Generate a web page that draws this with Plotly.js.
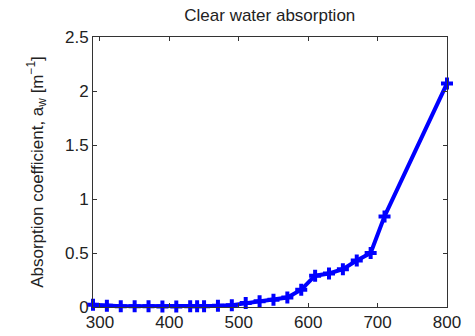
<!DOCTYPE html>
<html>
<head>
<meta charset="utf-8">
<script src="https://cdn.plot.ly/plotly-3.0.1.min.js"></script>
<style>html,body{margin:0;padding:0;background:#fff;}#chart{width:475px;height:336px;}</style>
</head>
<body>
<div id="chart"></div>
<script>
const wavelength = [290, 310, 330, 350, 370, 390, 410, 430, 440, 450, 470, 490, 510, 530, 550, 570, 590, 610, 630, 650, 670, 690, 710, 800];
const absorption = [0.02, 0.011, 0.008, 0.006, 0.006, 0.005, 0.005, 0.006, 0.006, 0.008, 0.012, 0.017, 0.036, 0.053, 0.068, 0.088, 0.16, 0.29, 0.31, 0.35, 0.43, 0.5, 0.839, 2.07];
const xTicks = [300, 400, 500, 600, 700, 800];
const yTicks = [0, 0.5, 1, 1.5, 2, 2.5];

const fontFam = 'Liberation Sans, Arial, sans-serif';
const axisCommon = {
  showgrid: false, zeroline: false, showline: true, linecolor: '#333', linewidth: 1,
  mirror: 'ticks', ticks: 'inside', ticklen: 4, tickcolor: '#333',
  tickfont: {family: fontFam, size: 17, color: '#222'}
};

Plotly.newPlot('chart', [{
  x: wavelength, y: absorption, type: 'scatter', mode: 'lines+markers',
  line: {color: '#0000ff', width: 4},
  marker: {symbol: 'cross', size: 10, color: '#0000ff'},
  cliponaxis: false
}], {
  width: 475, height: 336,
  margin: {l: 93, r: 28, t: 37, b: 29},
  paper_bgcolor: '#fff', plot_bgcolor: '#fff',
  showlegend: false,
  title: {text: 'Clear water absorption', x: 0.568, xanchor: 'center', y: 0.955, yanchor: 'middle',
          font: {family: fontFam, size: 17, color: '#222'}},
  xaxis: Object.assign({}, axisCommon, {range: [290, 800], tickvals: xTicks, ticktext: xTicks.map(String)}),
  yaxis: Object.assign({}, axisCommon, {range: [0, 2.5], tickvals: yTicks, ticktext: yTicks.map(String),
    title: {text: 'Absorption coefficient, a<sub>w</sub> [m<sup>−1</sup>]', standoff: 17,
            font: {family: fontFam, size: 17, color: '#222'}}})
}, {staticPlot: true, displayModeBar: false});
</script>
</body>
</html>
